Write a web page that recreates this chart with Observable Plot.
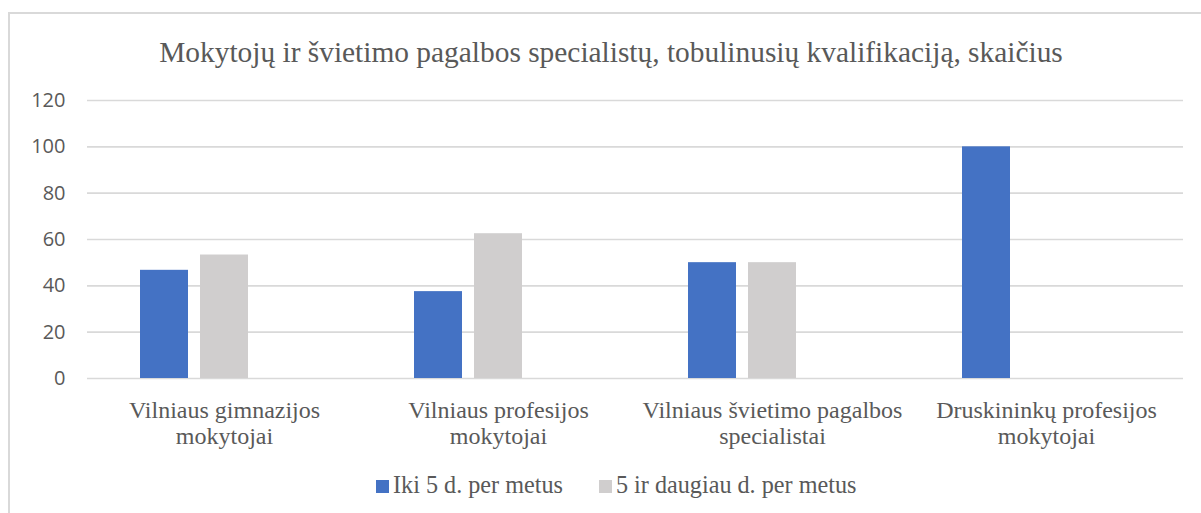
<!DOCTYPE html>
<html><head><meta charset="utf-8">
<script src="https://cdn.jsdelivr.net/npm/d3@7"></script>
<script src="https://cdn.jsdelivr.net/npm/@observablehq/plot@0.6"></script>
<style>
body{margin:0;background:#fff;overflow:hidden;width:1201px;height:513px;position:relative}
#frame{position:absolute;left:8px;top:12px;width:1300px;height:600px;border-left:2px solid #d9d9d9;border-top:2px solid #d9d9d9}
#title{position:absolute;left:9px;width:1204px;top:37px;text-align:center;font:29.4px/30px "Liberation Serif",serif;color:#595959;white-space:nowrap}
#chart{position:absolute;left:0;top:80px}
#legend{position:absolute;left:376px;top:473px;display:flex;align-items:baseline;font:24.2px/24px "Liberation Serif",serif;color:#595959;white-space:nowrap}
#legend .item{display:flex;align-items:baseline;margin-right:36px}
#legend .sw{display:inline-block;width:13px;height:13px;margin-right:4px}
</style>
</head><body>
<div id="frame"></div>
<div id="title"></div>
<div id="chart"></div>
<div id="legend"></div>
<script>
const titleText = "Mokytojų ir švietimo pagalbos specialistų, tobulinusių kvalifikaciją, skaičius";
const categories = [
  "Vilniaus gimnazijos\nmokytojai",
  "Vilniaus profesijos\nmokytojai",
  "Vilniaus švietimo pagalbos\nspecialistai",
  "Druskininkų profesijos\nmokytojai"
];
const seriesNames = ["Iki 5 d. per metus", "5 ir daugiau d. per metus"];
const hiddenSeries = "(tuščia)";
const iki5 = [46.7, 37.5, 50, 100];
const daugiau5 = [53.3, 62.5, 50, 0];
const yTicks = [0, 20, 40, 60, 80, 100, 120];
const colors = ["#4472c4", "#d0cece"];

document.getElementById("title").textContent = titleText;

const data = categories.flatMap((c, i) => [
  {category: c, series: seriesNames[0], value: iki5[i]},
  {category: c, series: seriesNames[1], value: daugiau5[i]}
]);

const chart = Plot.plot({
  width: 1201,
  height: 380,
  marginLeft: 86,
  marginRight: 17,
  marginTop: 20,
  marginBottom: 82,
  style: {background: "transparent", overflow: "visible"},
  fx: {domain: categories, padding: 0, label: null},
  x: {domain: [...seriesNames, hiddenSeries], paddingInner: 0.205, paddingOuter: 0.852, axis: null},
  y: {domain: [0, 120], label: null},
  color: {domain: seriesNames, range: colors},
  marks: [
    Plot.gridY(yTicks, {stroke: "#d9d9d9", strokeOpacity: 1, strokeWidth: 1.6}),
    Plot.barY(data, {fx: "category", x: "series", y: "value", fill: "series"}),
    Plot.axisY(yTicks, {tickSize: 0, tickPadding: 22, fontSize: 20, fontFamily: "Open Sans", fill: "#595959", label: null}),
    Plot.axisFx({anchor: "bottom", tickSize: 0, tickPadding: 21, fontSize: 24, fontFamily: "Liberation Serif", fill: "#595959", lineHeight: 1.08, label: null})
  ]
});
document.getElementById("chart").appendChild(chart);

const legend = document.getElementById("legend");
seriesNames.forEach((name, i) => {
  const item = document.createElement("span");
  item.className = "item";
  const sw = document.createElement("span");
  sw.className = "sw";
  sw.style.background = colors[i];
  const t = document.createElement("span");
  t.textContent = name;
  item.appendChild(sw);
  item.appendChild(t);
  legend.appendChild(item);
});
</script>
</body></html>
